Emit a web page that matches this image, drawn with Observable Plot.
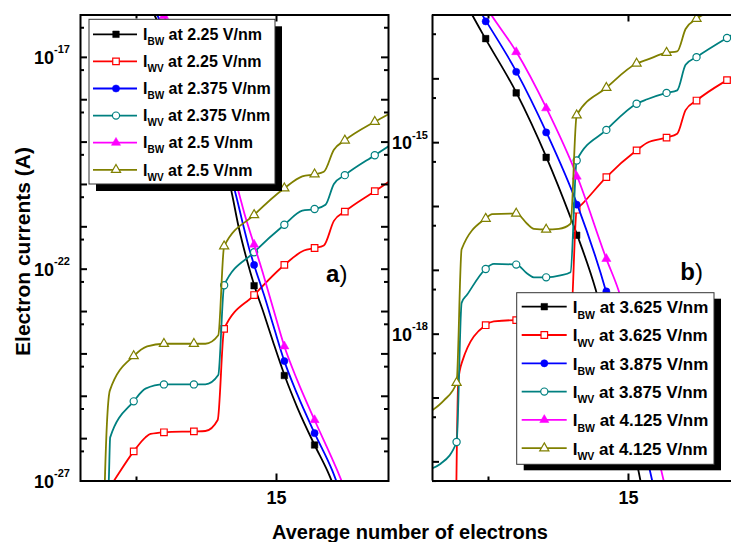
<!DOCTYPE html>
<html><head><meta charset="utf-8">
<script src="https://cdn.jsdelivr.net/npm/d3@7"></script>
<script src="https://cdn.jsdelivr.net/npm/@observablehq/plot@0.6"></script>
<style>
html,body{margin:0;padding:0;background:#fff;}
#wrap{position:relative;width:731px;height:542px;overflow:hidden;}
#wrap svg{position:absolute;top:0;}
</style></head><body><div id="wrap"></div>
<script>
// ---------- DATA (y values are log10 of current in A) ----------
// Panel a) fields 2.25, 2.375, 2.5 V/nm
const markXA = [9.90, 10.98, 12.05, 13.13, 14.20, 15.28, 16.36, 17.44, 18.51];

const bwA225X = [10.30, 10.64, 11.20, 12.00, 12.80, 13.36, 13.65, 13.95, 14.21, 14.55, 14.90, 15.29, 15.74, 16.36, 16.81, 17.10];
const bwA225L = [-15.55, -16.00, -16.75, -17.85, -19.05, -20.07, -21.01, -21.80, -22.39, -23.05, -23.76, -24.51, -25.26, -26.15, -26.75, -27.20];
const bwA225M = [null, -16.46, -17.92, -19.60, -22.39, -24.51, -26.15, null, null];

const wvA225X = [9.00, 9.19, 9.90, 10.32, 10.50, 10.98, 12.05, 12.46, 12.90, 13.13, 14.20, 15.28, 15.98, 16.36, 16.69, 17.05, 17.44, 18.51, 19.00];
const wvA225L = [-27.19, -27.00, -26.30, -25.97, -25.89, -25.85, -25.83, -25.82, -25.56, -23.41, -22.61, -21.90, -21.56, -21.50, -21.44, -20.86, -20.64, -20.16, -19.94];
const wvA225M = [-26.30, -25.85, -25.83, -23.41, -22.61, -21.90, -21.50, -20.64, -20.16];

const bwA2375X = [10.40, 10.74, 11.30, 12.10, 12.90, 13.48, 13.83, 14.01, 14.20, 14.55, 14.90, 15.28, 15.74, 16.36, 16.99, 17.25];
const bwA2375L = [-15.55, -16.00, -16.75, -17.85, -19.05, -20.07, -21.01, -21.48, -21.90, -22.60, -23.36, -24.17, -24.95, -25.87, -26.75, -27.20];
const bwA2375M = [-16.33, null, -17.78, -19.40, -21.90, -24.17, -25.87, null, null];

const wvA2375X = [8.96, 9.01, 9.06, 9.90, 10.32, 10.98, 12.05, 12.46, 12.92, 13.13, 14.20, 15.28, 15.92, 16.36, 16.75, 17.05, 17.44, 18.51, 19.00];
const wvA2375L = [-27.50, -27.00, -25.97, -25.12, -24.82, -24.72, -24.72, -24.72, -24.50, -22.38, -21.60, -20.95, -20.62, -20.58, -20.48, -19.99, -19.78, -19.31, -19.10];
const wvA2375M = [-25.12, -24.72, -24.72, -22.38, -21.60, -20.95, -20.58, -19.78, -19.31];

const bwA25X = [10.55, 10.98, 11.60, 12.40, 13.10, 13.60, 13.89, 14.20, 14.55, 14.90, 15.28, 15.74, 16.36, 17.17, 17.45];
const bwA25L = [-15.45, -16.02, -16.85, -18.00, -19.15, -20.07, -20.77, -21.42, -22.17, -22.97, -23.82, -24.62, -25.56, -26.75, -27.20];
const bwA25M = [null, -16.02, -17.50, -19.20, -21.42, -23.82, -25.56, null, null];

const wvA25X = [8.85, 8.87, 9.05, 9.90, 10.38, 10.98, 12.05, 12.46, 12.92, 13.13, 14.20, 15.28, 15.92, 16.36, 16.69, 17.05, 17.44, 18.51, 19.00];
const wvA25L = [-27.50, -27.00, -24.86, -24.05, -23.82, -23.76, -23.76, -23.76, -23.56, -21.46, -20.72, -20.09, -19.81, -19.76, -19.70, -19.18, -18.96, -18.52, -18.34];
const wvA25M = [-24.05, -23.76, -23.76, -21.46, -20.72, -20.09, -19.76, -18.96, -18.52];

// Panel b) fields 3.625, 3.875, 4.125 V/nm
const markXB = [8.86, 9.90, 10.99, 12.06, 13.15, 14.21, 15.29, 16.36, 17.43, 18.52];

const bwB3625X = [9.00, 9.42, 9.89, 11.00, 12.07, 12.93, 13.17, 13.82, 14.60, 15.43, 15.60];
const bwB3625L = [-12.65, -13.00, -13.37, -14.22, -15.23, -16.17, -16.45, -17.29, -18.70, -20.30, -20.70];
const bwB3625M = [null, -13.37, -14.22, -15.23, -16.45, -17.99, null, null, null, null];

const wvB3625X = [8.84, 8.92, 9.06, 9.89, 10.19, 11.00, 11.38, 11.62, 12.06, 12.50, 12.93, 13.15, 13.35, 14.21, 15.29, 15.67, 16.36, 16.74, 17.04, 17.43, 18.52, 18.75];
const wvB3625L = [-20.80, -18.73, -18.43, -17.86, -17.80, -17.78, -17.88, -17.95, -17.96, -17.95, -17.88, -16.05, -15.96, -15.54, -15.12, -15.00, -14.92, -14.86, -14.49, -14.34, -14.02, -13.96];
const wvB3625M = [null, -17.86, -17.78, -17.96, -16.05, -15.54, -15.12, -14.92, -14.34, -14.02];

const bwB3875X = [9.50, 9.92, 11.00, 12.07, 13.17, 14.20, 15.00, 15.85, 16.00];
const bwB3875L = [-12.80, -13.10, -13.89, -14.84, -15.97, -17.33, -18.70, -20.30, -20.60];
const bwB3875M = [null, -13.10, -13.89, -14.84, -15.97, -17.33, null, null, null, null];

const wvB3875X = [8.00, 8.29, 8.86, 9.04, 9.24, 9.89, 10.19, 11.00, 11.38, 11.62, 12.06, 12.57, 12.93, 13.15, 14.21, 15.29, 15.67, 16.36, 16.74, 17.04, 17.43, 18.52, 18.75];
const wvB3875L = [-20.10, -20.03, -19.69, -17.51, -17.38, -16.98, -16.90, -16.91, -17.05, -17.11, -17.11, -17.08, -17.03, -15.28, -14.80, -14.39, -14.32, -14.22, -14.18, -13.78, -13.66, -13.36, -13.30];
const wvB3875M = [-19.69, -16.98, -16.91, -17.11, -15.28, -14.80, -14.39, -14.22, -13.66, -13.36];

const bwB4125X = [9.80, 10.10, 11.00, 12.07, 13.17, 14.21, 14.65, 15.50, 16.26, 16.40];
const bwB4125L = [-12.80, -13.00, -13.58, -14.46, -15.53, -16.82, -17.32, -18.80, -20.30, -20.55];
const bwB4125M = [null, null, -13.58, -14.46, -15.53, -16.82, null, null, null, null];

const wvB4125X = [8.00, 8.40, 8.86, 9.04, 9.89, 10.13, 11.00, 11.38, 11.62, 12.06, 12.51, 12.93, 13.15, 14.21, 15.29, 15.67, 16.36, 16.74, 17.04, 17.43, 18.05];
const wvB4125L = [-19.19, -19.04, -18.76, -16.67, -16.19, -16.12, -16.11, -16.27, -16.35, -16.36, -16.35, -16.27, -14.57, -14.14, -13.76, -13.70, -13.59, -13.57, -13.22, -13.06, -12.92];
const wvB4125M = [-18.76, -16.19, -16.11, -16.36, -14.57, -14.14, -13.76, -13.59, -13.06, null];

// Axis ticks / labels
const yMajorExpA = [-27, -26, -25, -24, -23, -22, -21, -20, -19, -18, -17, -16];
const yLabelExpA = [-17, -22, -27];
const yMajorExpB = [-20, -19, -18, -17, -16, -15, -14, -13];
const yLabelExpB = [-15, -18];
const xMajor = [15];
const xMinor = [10];
const fieldsA = ["2.25", "2.375", "2.5"];
const fieldsB = ["3.625", "3.875", "4.125"];

// ---------- HELPERS ----------
const FONT = '"Liberation Sans", Arial, Helvetica, sans-serif';
const pts = (X, L) => X.map((x, i) => ({x, y: Math.pow(10, L[i])}));
const mks = (X, M) => X.map((x, i) => ({x, v: M[i]})).filter(d => d.v != null).map(d => ({x: d.x, y: Math.pow(10, d.v)}));

const styles = [
  {sub: "BW", color: "#000000", symbol: "square", filled: true, r: 3.7},
  {sub: "WV", color: "#FF0000", symbol: "square", filled: false, r: 3.7},
  {sub: "BW", color: "#0000FF", symbol: "circle", filled: true, r: 3.6},
  {sub: "WV", color: "#008080", symbol: "circle", filled: false, r: 3.6},
  {sub: "BW", color: "#FF00FF", symbol: "triangle", filled: true, r: 3.4},
  {sub: "WV", color: "#808000", symbol: "triangle", filled: false, r: 3.4}
];

const seriesA = [
  [bwA225X, bwA225L, bwA225M], [wvA225X, wvA225L, wvA225M],
  [bwA2375X, bwA2375L, bwA2375M], [wvA2375X, wvA2375L, wvA2375M],
  [bwA25X, bwA25L, bwA25M], [wvA25X, wvA25L, wvA25M]
];
const seriesB = [
  [bwB3625X, bwB3625L, bwB3625M], [wvB3625X, wvB3625L, wvB3625M],
  [bwB3875X, bwB3875L, bwB3875M], [wvB3875X, wvB3875L, wvB3875M],
  [bwB4125X, bwB4125L, bwB4125M], [wvB4125X, wvB4125L, wvB4125M]
];

function seriesMarks(series, markX) {
  const out = [];
  series.forEach((s, i) => {
    const st = styles[i];
    out.push(Plot.line(pts(s[0], s[1]), {x: "x", y: "y", stroke: st.color, strokeWidth: 1.8, curve: "monotone-x", clip: true}));
    out.push(Plot.dot(mks(markX, s[2]), {x: "x", y: "y", symbol: st.symbol, r: st.r,
      fill: st.filled ? st.color : "#ffffff", stroke: st.color, strokeWidth: st.filled ? 0.5 : 1.2, clip: true}));
  });
  return out;
}

const minorOf = exps => exps.slice(0, -1).map(e => 5 * Math.pow(10, e));
const pw = e => Math.pow(10, e);

// ---------- PANEL A ----------
const WA = 308, HA = 466;
const yDomA = [1e-27, 1e-16];
const plotA = Plot.plot({
  width: 400, height: 542,
  marginLeft: 80, marginRight: 12, marginTop: 14.5, marginBottom: 61.5,
  style: {background: "transparent"},
  x: {domain: [8, 19], axis: null},
  y: {type: "log", domain: yDomA, axis: null},
  marks: [
    ...seriesMarks(seriesA, markXA),
    Plot.tickY(yMajorExpA.map(pw), {y: d => d, insetRight: WA - 7, strokeWidth: 2}),
    Plot.tickY(yMajorExpA.map(pw), {y: d => d, insetLeft: WA - 7, strokeWidth: 2}),
    Plot.tickY(minorOf(yMajorExpA), {y: d => d, insetRight: WA - 4, strokeWidth: 2}),
    Plot.tickY(minorOf(yMajorExpA), {y: d => d, insetLeft: WA - 4, strokeWidth: 2}),
    Plot.tickX(xMajor, {x: d => d, insetTop: HA - 7, strokeWidth: 2}),
    Plot.tickX(xMajor, {x: d => d, insetBottom: HA - 7, strokeWidth: 2}),
    Plot.tickX(xMinor, {x: d => d, insetTop: HA - 4, strokeWidth: 2}),
    Plot.tickX(xMinor, {x: d => d, insetBottom: HA - 4, strokeWidth: 2}),
    Plot.frame({stroke: "black", strokeWidth: 2}),
    Plot.text(xMajor, {x: d => d, frameAnchor: "bottom", lineAnchor: "bottom", dy: 22.5, text: d => String(d),
      fontSize: 18, fontWeight: "bold", fontFamily: FONT, fill: "black"})
  ]
});
plotA.style.left = "0px";

// ---------- PANEL B ----------
const WB = 351, HB = 466;
const yDomB = [Math.pow(10, -20.3), 1e-13];
const plotB = Plot.plot({
  width: 351, height: 542,
  marginLeft: 52, marginRight: 0, marginTop: 14.5, marginBottom: 61.5,
  style: {background: "transparent"},
  x: {domain: [8, 18.68], axis: null},
  y: {type: "log", domain: yDomB, axis: null},
  marks: [
    ...seriesMarks(seriesB, markXB),
    Plot.tickY(yMajorExpB.map(pw), {y: d => d, insetRight: (WB - 52) - 7, strokeWidth: 2}),
    Plot.tickY(minorOf(yMajorExpB).concat([5 * Math.pow(10, -21)]), {y: d => d, insetRight: (WB - 52) - 4, strokeWidth: 2}),
    Plot.tickX(xMajor, {x: d => d, insetTop: HB - 7, strokeWidth: 2}),
    Plot.tickX(xMajor, {x: d => d, insetBottom: HB - 7, strokeWidth: 2}),
    Plot.tickX(xMinor, {x: d => d, insetTop: HB - 4, strokeWidth: 2}),
    Plot.tickX(xMinor, {x: d => d, insetBottom: HB - 4, strokeWidth: 2}),
    Plot.ruleX([8], {stroke: "black", strokeWidth: 2}),
    Plot.ruleY([yDomB[0], yDomB[1]], {stroke: "black", strokeWidth: 2}),
    Plot.text(xMajor, {x: d => d, frameAnchor: "bottom", lineAnchor: "bottom", dy: 22.5, text: d => String(d),
      fontSize: 18, fontWeight: "bold", fontFamily: FONT, fill: "black"})
  ]
});
plotB.style.left = "380px";

// y tick labels with superscripts, positioned with the plots' own scales
function yLabels(plot, exps, xRight) {
  const sy = plot.scale("y");
  const svg = d3.select(plot);
  exps.forEach(e => {
    const y = sy.apply(Math.pow(10, e));
    const t = svg.append("text").attr("x", xRight).attr("y", y + 7)
      .attr("text-anchor", "end").attr("font-family", FONT).attr("font-weight", "bold").attr("fill", "black");
    t.append("tspan").attr("font-size", 18).text("10");
    t.append("tspan").attr("font-size", 11).attr("dy", -10.5).text(String(e));
  });
}
yLabels(plotA, yLabelExpA, 70);
yLabels(plotB, yLabelExpB, 48);

function panelTag(plot, letter, x, y) {
  const t = d3.select(plot).append("text").attr("x", x).attr("y", y)
    .attr("font-family", FONT).attr("font-size", 24).attr("fill", "black");
  t.append("tspan").attr("font-weight", "bold").text(letter);
  t.append("tspan").text(")");
}
panelTag(plotA, "a", 336.7, 282);
panelTag(plotB, "b", 311.7, 280);

const wrap = document.getElementById("wrap");
wrap.appendChild(plotA);
wrap.appendChild(plotB);

// ---------- OVERLAY: titles and legends ----------
const ov = d3.create("svg").attr("width", 731).attr("height", 542).style("left", "0px").style("top", "0px");
ov.append("text").attr("x", 410).attr("y", 539).attr("text-anchor", "middle")
  .attr("font-family", FONT).attr("font-weight", "bold").attr("font-size", 20).attr("fill", "black")
  .text("Average number of electrons");
ov.append("text").attr("transform", "translate(29.5,251.5) rotate(-90)").attr("text-anchor", "middle")
  .attr("font-family", FONT).attr("font-weight", "bold").attr("font-size", 21).attr("fill", "black")
  .text("Electron currents (A)");

const symMap = {square: d3.symbolSquare, circle: d3.symbolCircle, triangle: d3.symbolTriangle};
function legend(cfg, fields) {
  const g = ov.append("g").attr("font-family", FONT).attr("font-weight", "bold").attr("fill", "black");
  g.append("rect").attr("x", cfg.x + cfg.sx).attr("y", cfg.y + cfg.sy).attr("width", cfg.w).attr("height", cfg.h).attr("fill", "#000");
  g.append("rect").attr("x", cfg.x).attr("y", cfg.y).attr("width", cfg.w).attr("height", cfg.h)
    .attr("fill", "#fff").attr("stroke", "#333").attr("stroke-width", 1);
  styles.forEach((st, i) => {
    const cy = cfg.row0 + i * cfg.step;
    g.append("line").attr("x1", cfg.lx1).attr("x2", cfg.lx2).attr("y1", cy).attr("y2", cy)
      .attr("stroke", st.color).attr("stroke-width", 1.8);
    g.append("path").attr("transform", `translate(${cfg.mx},${cy})`)
      .attr("d", d3.symbol(symMap[st.symbol], Math.PI * st.r * st.r)())
      .attr("fill", st.filled ? st.color : "#fff").attr("stroke", st.color).attr("stroke-width", st.filled ? 0.5 : 1.2);
    const t = g.append("text").attr("x", cfg.tx).attr("y", cy + cfg.base).attr("font-size", cfg.fs).style("white-space", "pre");
    t.append("tspan").text("I");
    t.append("tspan").attr("font-size", cfg.sfs).attr("dy", cfg.sub).text(st.sub);
    t.append("tspan").attr("dy", -cfg.sub).text(" at " + fields[Math.floor(i / 2)] + " V/nm");
  });
}
legend({x: 89, y: 19.3, w: 186, h: 164.7, sx: 7, sy: 7, row0: 34.3, step: 27.1, lx1: 93, lx2: 137, mx: 116,
  tx: 143, fs: 16, sfs: 10, sub: 5, base: 5.7}, fieldsA);
legend({x: 516.7, y: 292.7, w: 197.3, h: 171.6, sx: 7, sy: 6, row0: 306.7, step: 28.3, lx1: 521.7, lx2: 566.7, mx: 544.3,
  tx: 572.7, fs: 17, sfs: 10.5, sub: 5.5, base: 6.3}, fieldsB);

wrap.appendChild(ov.node());
</script></body></html>
